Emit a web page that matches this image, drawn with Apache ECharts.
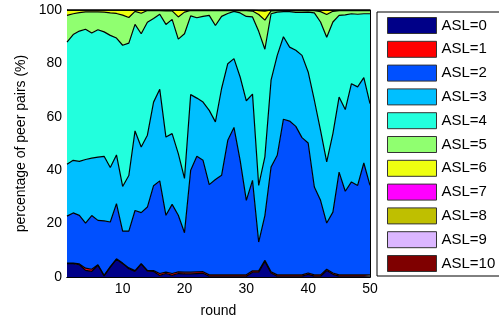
<!DOCTYPE html>
<html>
<head>
<meta charset="utf-8">
<script src="https://cdn.jsdelivr.net/npm/echarts@6/dist/echarts.min.js"></script>
<style>
html,body{margin:0;padding:0;background:#fff;}
#chart{width:499px;height:324px;}
</style>
</head>
<body>
<div id="chart"></div>
<script>
const rounds = [1,2,3,4,5,6,7,8,9,10,11,12,13,14,15,16,17,18,19,20,21,22,23,24,25,26,27,28,29,30,31,32,33,34,35,36,37,38,39,40,41,42,43,44,45,46,47,48,49,50];
const xTicks = [10,20,30,40,50];
const seriesNames = ['ASL=0','ASL=1','ASL=2','ASL=3','ASL=4','ASL=5','ASL=6','ASL=7','ASL=8','ASL=9','ASL=10'];

const asl0 = [5.0,5.0,4.6,2.5,2.1,4.4,0.4,3.7,6.6,5.0,3.1,2.1,4.8,2.2,2.1,0.6,1.3,0.6,1.3,1.2,1.2,1.3,1.4,0.3,0.3,0.3,0.3,0.3,0.3,0.3,1.8,1.8,5.8,1.5,0.3,0.3,0.3,0.3,0.3,1.0,0.3,0.3,2.4,1.0,0.3,0.3,0.3,0.3,0.3,0.3];
const asl1 = [0.2,0.2,0.3,0.8,0.8,0.2,0.2,0.2,0.2,0.2,0.3,0.3,0.2,0.3,0.3,0.7,0.5,0.7,0.6,0.6,0.6,0.6,0.6,0.5,0.5,0.5,0.5,0.5,0.5,0.5,0.5,0.5,0.5,0.5,0.5,0.5,0.5,0.5,0.5,0.5,0.5,0.5,0.5,0.5,0.5,0.5,0.5,0.5,0.5,0.5];
const asl2 = [17.6,18.8,18.2,16.9,20.1,16.6,20.4,16.7,20.7,12.0,13.8,22.5,19.1,23.7,31.8,34.7,21.3,25.9,21.2,14.8,38.2,43.3,41.7,33.8,35.7,37.3,50.4,55.2,42.9,27.9,33.9,10.8,16.7,39.2,44.8,58.3,57.6,55.6,51.4,48.7,32.9,27.9,17.3,22.8,38.5,31.3,34.8,33.5,41.9,33.5];
const asl3 = [19.4,19.7,20.2,23.8,21.5,23.7,24.2,20.4,18.2,16.7,20.8,29.8,24.6,26.9,31.3,34.3,29.3,26.5,23.1,20.3,28.3,21.8,21.8,27.8,21.6,32.5,28.7,25.8,31.2,37.3,32.3,21.2,22.0,32.5,37.4,30.9,27.7,28.5,30.8,26.6,32.5,26.2,22.9,29.4,28.1,30.6,36.8,36.9,32.0,30.6];
const asl4 = [45.8,47.1,48.8,48.8,46.9,47.7,46.6,49.5,43.8,52.9,49.6,39.9,42.4,42.3,31.3,28.1,42.2,42.8,42.9,54.2,29.5,30.1,32.1,35.6,36.1,27.0,18.8,17.7,24.0,31.6,28.9,57.7,40.3,24.9,16.2,9.4,13.3,14.2,16.1,22.4,32.7,40.6,46.7,41.8,30.6,35.5,26.2,27.2,23.9,33.7];
const asl5 = [10.0,7.8,6.9,6.5,7.9,6.7,7.4,8.4,9.2,11.3,9.6,4.9,7.7,4.4,3.0,1.4,5.1,3.2,8.3,8.1,2.0,2.7,2.2,1.8,5.6,2.2,1.1,0.3,0.9,2.2,2.2,6.3,10.9,1.1,0.6,0.4,0.4,0.7,0.7,0.6,0.9,3.9,8.5,4.0,1.8,1.6,1.2,1.4,1.2,1.2];
const asl6 = [2.0,1.4,1.0,0.7,0.7,0.7,0.8,1.1,1.3,1.9,2.8,0.5,1.2,0.2,0.2,0.2,0.3,0.3,2.6,0.8,0.2,0.2,0.2,0.2,0.2,0.2,0.2,0.2,0.2,0.2,0.4,1.5,3.4,0.3,0.2,0.2,0.2,0.2,0.2,0.2,0.2,0.6,1.7,0.5,0.2,0.2,0.2,0.2,0.2,0.2];
const asl7 = [0,0,0,0,0,0,0,0,0,0,0,0,0,0,0,0,0,0,0,0,0,0,0,0,0,0,0,0,0,0,0,0.2,0.4,0,0,0,0,0,0,0,0,0,0,0,0,0,0,0,0,0];
const asl8 = [0,0,0,0,0,0,0,0,0,0,0,0,0,0,0,0,0,0,0,0,0,0,0,0,0,0,0,0,0,0,0,0,0,0,0,0,0,0,0,0,0,0,0,0,0,0,0,0,0,0];
const asl9 = [0,0,0,0,0,0,0,0,0,0,0,0,0,0,0,0,0,0,0,0,0,0,0,0,0,0,0,0,0,0,0,0,0,0,0,0,0,0,0,0,0,0,0,0,0,0,0,0,0,0];
const asl10 = [0,0,0,0,0,0,0,0,0,0,0,0,0,0,0,0,0,0,0,0,0,0,0,0,0,0,0,0,0,0,0,0,0,0,0,0,0,0,0,0,0,0,0,0,0,0,0,0,0,0];

const allValues = [asl0,asl1,asl2,asl3,asl4,asl5,asl6,asl7,asl8,asl9,asl10];
const colors = ['#000088','#ff0000','#0050ff','#00bfff','#22ffdd','#90ff70','#eeff10','#ff00ff','#bfbf00','#dbb6ff','#7f0000'];

const FONT = 'Liberation Sans, Arial, sans-serif';
const chart = echarts.init(document.getElementById('chart'), null, {renderer:'canvas'});

const series = allValues.map((vals, k) => ({
  name: seriesNames[k],
  type: 'line',
  stack: 'total',
  symbol: 'none',
  color: colors[k],
  itemStyle: {color: colors[k]},
  lineStyle: {color: '#000', width: 1.2},
  areaStyle: {color: colors[k], opacity: 1},
  data: vals.slice()
}));

const isTick = (idx) => xTicks.indexOf(rounds[idx]) >= 0;
const axisLine = {show: true, lineStyle: {color: '#000', width: 1}};
chart.setOption({
  animation: false,
  backgroundColor: '#fff',
  grid: {left: 67, top: 10, width: 303, height: 267, containLabel: false},
  xAxis: [{
    type: 'category', boundaryGap: false, data: rounds.map(String), position: 'bottom',
    name: 'round', nameLocation: 'middle', nameGap: 27,
    nameTextStyle: {fontFamily: FONT, fontSize: 14, color: '#000'},
    axisLine: axisLine,
    axisTick: {show: true, inside: true, length: 4, interval: (i) => isTick(i), lineStyle: {color: '#000'}},
    axisLabel: {interval: (i) => isTick(i), margin: 5, fontFamily: FONT, fontSize: 14, color: '#000'},
    splitLine: {show: false}
  }, {
    type: 'category', boundaryGap: false, data: rounds.map(String), position: 'top',
    axisLine: axisLine,
    axisTick: {show: false},
    axisLabel: {show: false},
    splitLine: {show: false}
  }],
  yAxis: [{
    type: 'value', min: 0, max: 100, interval: 20, position: 'left',
    name: 'percentage of peer pairs (%)', nameLocation: 'middle', nameGap: 39,
    nameTextStyle: {fontFamily: FONT, fontSize: 14, color: '#000'},
    axisLine: axisLine,
    axisTick: {show: true, inside: true, length: 4, lineStyle: {color: '#000'}},
    axisLabel: {margin: 5, fontFamily: FONT, fontSize: 14, color: '#000'},
    splitLine: {show: false}
  }, {
    type: 'value', min: 0, max: 100, interval: 20, position: 'right',
    axisLine: axisLine,
    axisTick: {show: false},
    axisLabel: {show: false},
    splitLine: {show: false}
  }],
  legend: {
    orient: 'vertical',
    left: 377, top: 12,
    data: seriesNames,
    icon: 'rect',
    itemWidth: 49, itemHeight: 16, itemGap: 6.8,
    padding: [5, 12, 4, 10],
    borderColor: '#000', borderWidth: 1,
    backgroundColor: '#fff',
    selectedMode: false,
    itemStyle: {borderColor: '#333', borderWidth: 1},
    textStyle: {fontFamily: FONT, fontSize: 15, color: '#000', padding: [0,0,0,0]}
  },
  series: series
});
</script>
</body>
</html>
